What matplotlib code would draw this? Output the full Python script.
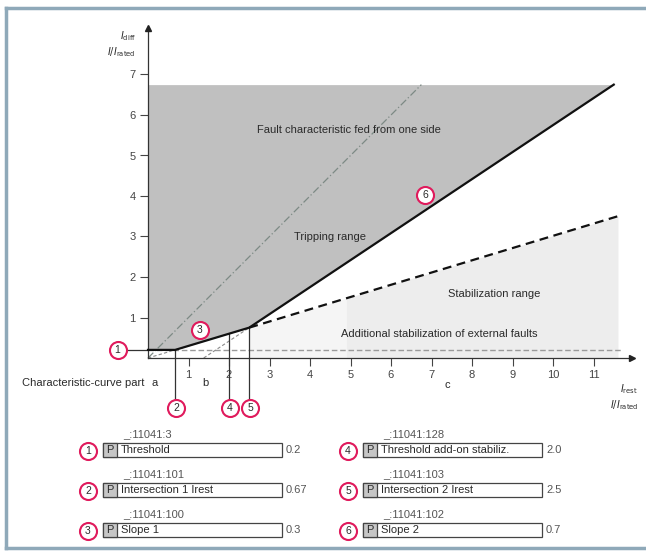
import matplotlib
matplotlib.use("Agg")
import matplotlib.pyplot as plt
from matplotlib.patches import Rectangle
from matplotlib.lines import Line2D

plt.rcParams['font.family'] = ['Liberation Sans', 'DejaVu Sans']

# ---------------- data ----------------
char_x = [0, 0.67, 2.5, 11.5]          # tripping characteristic (I_rest)
char_y = [0.2, 0.2, 0.75, 6.75]        # tripping characteristic (I_diff)
stab_x = [2.5, 11.6]                   # stabilization boundary (dashed)
stab_y = [0.75, 3.5]
fault_x = [0, 6.75]                    # fault characteristic fed from one side
fault_y = [0, 6.75]
slope1_ext_x = [0, 0.67]
slope1_ext_y = [0, 0.2]
slope2_foot_x = [1.375, 2.5]
slope2_foot_y = [0, 0.75]
threshold_line_y = 0.2
top_level = 6.75
x_ticks = list(range(1, 12))
y_ticks = list(range(1, 8))

param_nums = ['1', '2', '3', '4', '5', '6']
param_codes = ['_:11041:3', '_:11041:101', '_:11041:100',
               '_:11041:128', '_:11041:103', '_:11041:102']
param_names = ['Threshold', 'Intersection 1 Irest', 'Slope 1',
               'Threshold add-on stabiliz.', 'Intersection 2 Irest', 'Slope 2']
param_values = ['0.2', '0.67', '0.3', '2.0', '2.5', '0.7']

# ---------------- figure ----------------
W, H = 646, 557
fig = plt.figure(figsize=(W / 100, H / 100), dpi=100)
fig.patch.set_facecolor('white')

PX = 40.5   # pixels per unit
X0, Y0 = 148, 358
ax = fig.add_axes([0, 0, 1, 1])
ax.set_xlim(-X0 / PX, (W - X0) / PX)
ax.set_ylim(-(H - Y0) / PX, Y0 / PX)
ax.patch.set_alpha(0)

pink = '#e01a5c'
txt = '#2a2a2a'
FS = 8

# regions
ax.fill_between([stab_x[0], stab_x[1]], [0, 0], stab_y, color='#f5f5f5', lw=0, zorder=0)
x5 = 4.9
y5 = stab_y[0] + (stab_y[1] - stab_y[0]) * (x5 - stab_x[0]) / (stab_x[1] - stab_x[0])
ax.fill_between([x5, stab_x[1]], [0, 0], [y5, stab_y[1]], color='#ededed', lw=0, zorder=0)
ax.fill_between(char_x, char_y, [top_level] * len(char_x), color='#c0c0c0', lw=0, zorder=1)

# lines
ax.plot([0, 11.7], [threshold_line_y] * 2, color='#9a9a9a', lw=1.0, ls=(0, (4, 2)), zorder=2)
ax.plot(fault_x, fault_y, color='#7d8a85', lw=0.9, ls=(0, (6, 2, 1, 2)), zorder=2)
ax.plot(slope1_ext_x, slope1_ext_y, color='#8a8a8a', lw=0.8, ls=(0, (3, 2)), zorder=2)
ax.plot(slope2_foot_x, slope2_foot_y, color='#8a8a8a', lw=0.8, ls=(0, (3, 2)), zorder=2)
ax.plot(stab_x, stab_y, color='#111111', lw=1.6, ls=(0, (4, 2.5)), zorder=3)
ax.plot(char_x, char_y, color='#111111', lw=1.6, zorder=4)

# marker reference lines
ax.plot([-0.6, 0], [0.2, 0.2], color='#333333', lw=0.9, zorder=3)
ax.plot([0.67, 0.67], [0.2, -1.03], color='#333333', lw=0.9, zorder=3)
ax.plot([2.0, 2.0], [0.6, -1.03], color='#333333', lw=0.9, zorder=3)
ax.plot([2.5, 2.5], [0.75, -1.03], color='#333333', lw=0.9, zorder=3)

# axes spines
for s in ['top', 'right']:
    ax.spines[s].set_visible(False)
ax.spines['left'].set_position(('data', 0))
ax.spines['bottom'].set_position(('data', 0))
ax.spines['left'].set_bounds(0, 8.15)
ax.spines['bottom'].set_bounds(0, 11.95)
ax.spines['left'].set_color('#333333')
ax.spines['bottom'].set_color('#333333')
ax.spines['left'].set_linewidth(0.9)
ax.spines['bottom'].set_linewidth(0.9)
ax.set_xticks(x_ticks)
ax.set_yticks(y_ticks)
ax.tick_params(direction='out', length=6, width=0.8, colors='#444444',
               labelsize=FS, pad=3)
ax.plot(11.95, 0, marker='>', ms=5, color='#222222', clip_on=False, zorder=5)
ax.plot(0, 8.15, marker='^', ms=5, color='#222222', clip_on=False, zorder=5)

# axis labels
ax.text(-0.3, 7.95, r'$I_{\mathrm{diff}}$', fontsize=7, color=txt, ha='right', va='center')
ax.text(-0.3, 7.55, r'$I/I_{\mathrm{rated}}$', fontsize=7, color=txt, ha='right', va='center')
ax.text(12.1, -0.78, r'$I_{\mathrm{rest}}$', fontsize=7, color=txt, ha='right', va='center')
ax.text(12.1, -1.16, r'$I/I_{\mathrm{rated}}$', fontsize=7, color=txt, ha='right', va='center')

# region texts
ax.text(4.95, 5.63, 'Fault characteristic fed from one side', fontsize=FS, color=txt, ha='center', va='center')
ax.text(4.5, 3.0, 'Tripping range', fontsize=FS, color=txt, ha='center', va='center')
ax.text(8.55, 1.58, 'Stabilization range', fontsize=FS, color=txt, ha='center', va='center')
ax.text(7.2, 0.6, 'Additional stabilization of external faults', fontsize=FS, color=txt, ha='center', va='center')
ax.text(-3.1, -0.62, 'Characteristic-curve part', fontsize=FS, color=txt, ha='left', va='center')
ax.text(0.17, -0.62, 'a', fontsize=FS, color=txt, ha='center', va='center')
ax.text(1.41, -0.62, 'b', fontsize=FS, color=txt, ha='center', va='center')
ax.text(7.4, -0.67, 'c', fontsize=FS, color=txt, ha='center', va='center')

# numbered markers in the chart
circ_x = [-0.75, 0.69, 1.28, 2.02, 2.52, 6.84]
circ_y = [0.2, -1.23, 0.69, -1.23, -1.23, 4.02]
ax.scatter(circ_x, circ_y, s=150, facecolor='white', edgecolor=pink, linewidth=1.5, zorder=6, clip_on=False)
for n, cx, cy in zip(param_nums, circ_x, circ_y):
    ax.text(cx, cy, n, fontsize=7.5, color=txt, ha='center', va='center', zorder=7)

# ---------------- parameter table (pixel coords) ----------------
tb = fig.add_axes([0, 0, 1, 1])
tb.set_xlim(0, W)
tb.set_ylim(H, 0)
tb.axis('off')
tb.patch.set_alpha(0)

# frame
tb.add_line(Line2D([6, W], [8, 8], color='#8fa9b9', lw=2.5))
tb.add_line(Line2D([6, 6], [8, 548], color='#8fa9b9', lw=2.5))
tb.add_line(Line2D([6, W], [548, 548], color='#8fa9b9', lw=2.5))

col_circ = [88, 348]
col_box0 = [103, 363]
col_box1 = [282, 542]
row_y = [450, 490, 530]
for i in range(6):
    c = i // 3
    r = i % 3
    yc = row_y[r]
    tb.scatter([col_circ[c]], [yc + 1], s=150, facecolor='white', edgecolor=pink, linewidth=1.5, zorder=6)
    tb.text(col_circ[c], yc + 1, param_nums[i], fontsize=7.5, color=txt, ha='center', va='center', zorder=7)
    x0, x1 = col_box0[c], col_box1[c]
    tb.add_patch(Rectangle((x0, yc - 7), x1 - x0, 14, facecolor='white', edgecolor='#444444', lw=0.9))
    tb.add_patch(Rectangle((x0, yc - 7), 14, 14, facecolor='#c6c6c6', edgecolor='#444444', lw=0.9))
    tb.text(x0 + 7, yc, 'P', fontsize=FS, color=txt, ha='center', va='center')
    tb.text(x0 + 18, yc, param_names[i], fontsize=FS, color=txt, ha='left', va='center')
    tb.text(x1 + 4, yc, param_values[i], fontsize=FS, color='#555555', ha='left', va='center')
    tb.text(x0 + 20, yc - 16, param_codes[i], fontsize=FS, color='#555555', ha='left', va='center')

fig.savefig('out.png', dpi=100, facecolor='white')
